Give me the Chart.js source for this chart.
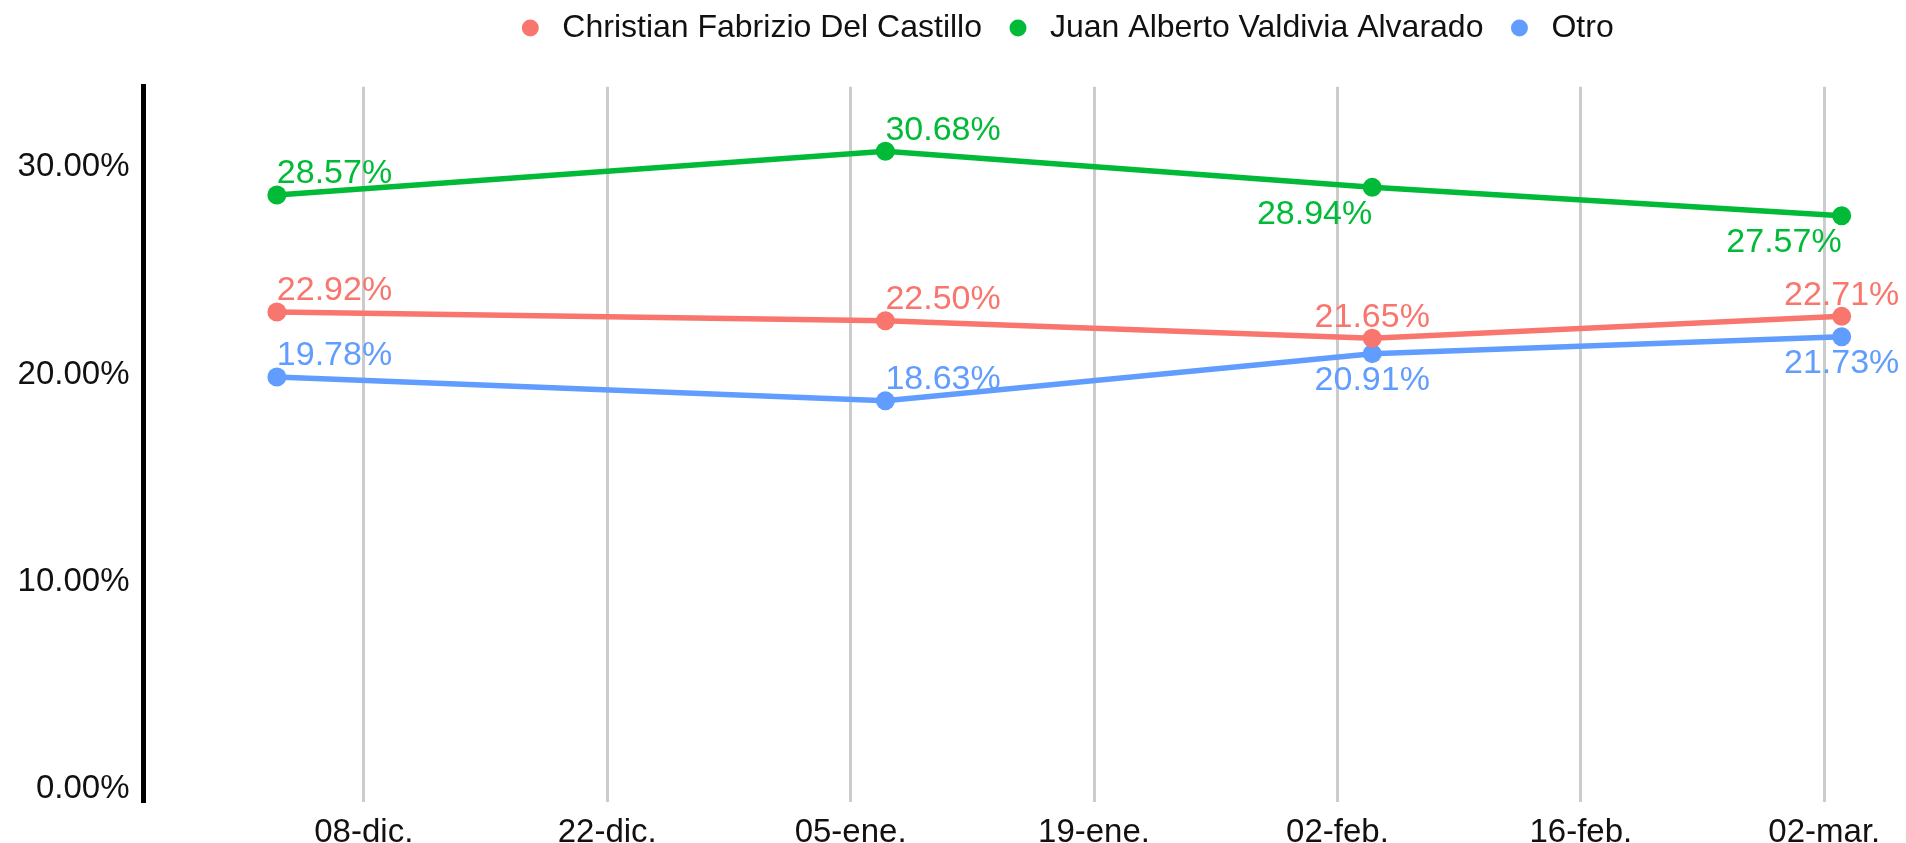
<!DOCTYPE html>
<html>
<head>
<meta charset="utf-8">
<script src="https://cdn.jsdelivr.net/npm/chart.js@4.4.1/dist/chart.umd.min.js"></script>
<style>
    html, body { margin: 0; padding: 0; background: #ffffff; }
    #wrap { width: 1906px; height: 843px; }
</style>
</head>
<body>
<div id="wrap"><canvas id="myLineChart" width="1906" height="843"></canvas></div>
<script>
// fechas de cada medición
var fechas = ['2024-12-03', '2025-01-07', '2025-02-04', '2025-03-03'];
var candidatos = ['Christian Fabrizio Del Castillo', 'Juan Alberto Valdivia Alvarado', 'Otro'];
var delCastillo = [22.92, 22.50, 21.65, 22.71];
var valdivia = [28.57, 30.68, 28.94, 27.57];
var otro = [19.78, 18.63, 20.91, 21.73];

// marcas del eje x (cada 14 días) y del eje y
var fechasEje = ['2024-12-08', '2024-12-22', '2025-01-05', '2025-01-19', '2025-02-02', '2025-02-16', '2025-03-02'];
var etiquetasEje = ['08-dic.', '22-dic.', '05-ene.', '19-ene.', '02-feb.', '16-feb.', '02-mar.'];
var marcasY = [0, 10, 20, 30];

var FUENTE = '"Liberation Sans", Arial, Helvetica, sans-serif';

function diasDesde(fecha) {
    var base = Date.UTC(2024, 11, 8);
    var p = fecha.split('-');
    return Math.round((Date.UTC(+p[0], +p[1] - 1, +p[2]) - base) / 86400000);
}

function serie(valores) {
    return valores.map((v, i) => ({ x: diasDesde(fechas[i]), y: v }));
}

// dibuja el valor junto a cada punto
var etiquetasPlugin = {
    id: 'etiquetasValor',
    afterDatasetsDraw: function (chart) {
        var ctx = chart.ctx;
        ctx.save();
        ctx.font = '34px ' + FUENTE;
        ctx.textBaseline = 'middle';
        chart.data.datasets.forEach(function (ds, di) {
            var meta = chart.getDatasetMeta(di);
            meta.data.forEach(function (pt, i) {
                var pos = ds.posEtiqueta[i].split(' ');
                ctx.fillStyle = ds.borderColor;
                ctx.textAlign = pos[1] === 'right' ? 'left' : (pos[1] === 'left' ? 'right' : 'center');
                var y = pos[0] === 'top' ? pt.y - 21 : pt.y + 27;
                ctx.fillText(ds.data[i].y.toFixed(2) + '%', pt.x, y);
            });
        });
        ctx.restore();
    }
};

// leyenda un poco a la derecha y más arriba, como en el original
var leyendaPlugin = {
    id: 'moverLeyenda',
    afterLayout: function (chart) {
        chart.legend.left = 222;
        chart.legend.top = -8;
    }
};

function buildLineChart() {
    var data = {
        datasets: [
            {
                label: candidatos[0],
                data: serie(delCastillo),
                borderColor: '#F8766D',
                backgroundColor: '#F8766D',
                posEtiqueta: ['top right', 'top right', 'top center', 'top center'],
            },
            {
                label: candidatos[1],
                data: serie(valdivia),
                borderColor: '#00BA38',
                backgroundColor: '#00BA38',
                posEtiqueta: ['top right', 'top right', 'bottom left', 'bottom left'],
            },
            {
                label: candidatos[2],
                data: serie(otro),
                borderColor: '#619CFF',
                backgroundColor: '#619CFF',
                posEtiqueta: ['top right', 'top right', 'bottom center', 'bottom center'],
            },
        ],
    };

    var options = {
        responsive: false,
        animation: false,
        layout: { autoPadding: false, padding: { top: 24.7, left: 0, right: 0, bottom: 0 } },
        elements: {
            line: { borderWidth: 5.5, tension: 0 },
            point: { radius: 9.5, borderWidth: 0, hoverRadius: 9.5 },
        },
        plugins: {
            tooltip: { enabled: false },
            legend: {
                position: 'top',
                align: 'center',
                labels: {
                    usePointStyle: true,
                    pointStyle: 'circle',
                    boxWidth: 32,
                    boxHeight: 12,
                    padding: 20,
                    color: '#111111',
                    font: { family: FUENTE, size: 32 },
                },
            },
        },
        scales: {
            x: {
                type: 'linear',
                min: -12.67,
                max: 88.7,
                afterBuildTicks: function (scale) {
                    scale.ticks = fechasEje.map(f => ({ value: diasDesde(f) }));
                },
                afterFit: function (scale) {
                    scale.height = 41;
                },
                ticks: {
                    autoSkip: false,
                    maxRotation: 0,
                    padding: 11,
                    color: '#111111',
                    font: { family: FUENTE, size: 33 },
                    callback: function (value) {
                        var idx = fechasEje.findIndex(f => diasDesde(f) === value);
                        return idx >= 0 ? etiquetasEje[idx] : '';
                    },
                },
                grid: { display: true, color: '#cccccc', lineWidth: 3, drawTicks: false },
                border: { display: false },
            },
            y: {
                type: 'linear',
                min: -0.74,
                max: 33.8,
                afterBuildTicks: function (scale) {
                    scale.ticks = marcasY.map(v => ({ value: v }));
                },
                afterFit: function (scale) {
                    scale.width = 143.5;
                },
                ticks: {
                    padding: 14,
                    labelOffset: 2,
                    color: '#111111',
                    font: { family: FUENTE, size: 33 },
                    callback: function (value) {
                        return value.toFixed(2) + '%';
                    },
                },
                grid: { display: false, drawTicks: false },
                border: { display: true, color: '#000000', width: 5 },
            },
        },
    };

    var ctx = document.getElementById('myLineChart').getContext('2d');
    new Chart(ctx, {
        type: 'line',
        data: data,
        options: options,
        plugins: [etiquetasPlugin, leyendaPlugin],
    });
}

buildLineChart();
</script>
</body>
</html>
